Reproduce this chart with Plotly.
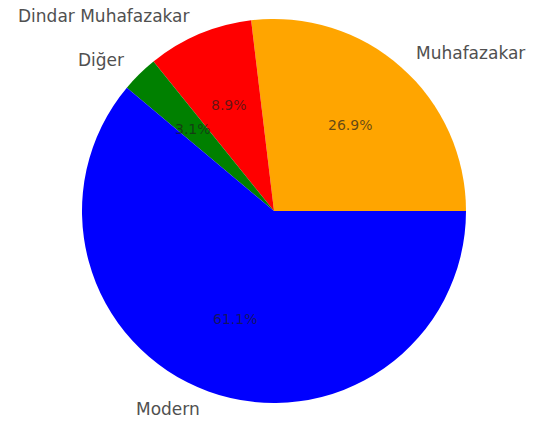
import math
import plotly.graph_objects as go

labels = ["Muhafazakar", "Dindar Muhafazakar", "Diğer", "Modern"]
values = [26.9, 8.9, 3.1, 61.1]
colors = ["#FFA500", "#FF0000", "#008000", "#0000FF"]

W, H = 538, 421
cx, cy, R = 274, 211, 192
dom_x = [(cx - R) / W, (cx + R) / W]
dom_y = [(H - cy - R) / H, (H - cy + R) / H]

total = sum(values)
# plotly's counterclockwise pies place the first slice clockwise of `rotation`;
# shift so the first slice starts at 3 o'clock like matplotlib's startangle=0
rotation = 90 - values[0] / total * 360

fig = go.Figure()
fig.add_trace(go.Pie(
    labels=labels, values=values, sort=False, direction="counterclockwise",
    rotation=rotation, textinfo="none", hoverinfo="skip", showlegend=False,
    marker=dict(colors=colors, line=dict(width=0)),
    domain=dict(x=dom_x, y=dom_y),
))


def to_paper(ux, uy):
    return (cx + R * ux) / W, (H - cy + R * uy) / H


annotations = []
start = 0.0
for lab, v in zip(labels, values):
    mid = (start + v / 2) / total * 2 * math.pi
    start += v
    c, s = math.cos(mid), math.sin(mid)
    px, py = to_paper(1.1 * c, 1.1 * s)
    annotations.append(dict(
        x=px, y=py, xref="paper", yref="paper", text=lab, showarrow=False,
        xanchor="left" if c > 0 else "right", yanchor="middle",
        font=dict(family="DejaVu Sans", size=17, color="#505050"),
    ))
    px, py = to_paper(0.6 * c, 0.6 * s)
    annotations.append(dict(
        x=px, y=py, xref="paper", yref="paper", text=f"{v / total * 100:.1f}%",
        showarrow=False, xanchor="center", yanchor="middle",
        font=dict(family="DejaVu Sans", size=14, color="rgba(30,30,30,0.7)"),
    ))

fig.update_layout(
    width=W, height=H, margin=dict(l=0, r=0, t=0, b=0),
    paper_bgcolor="white", plot_bgcolor="rgba(0,0,0,0)",
    annotations=annotations,
)
fig.write_html("out.html", config={"displayModeBar": False},
               post_script="document.body.style.margin='0';")
